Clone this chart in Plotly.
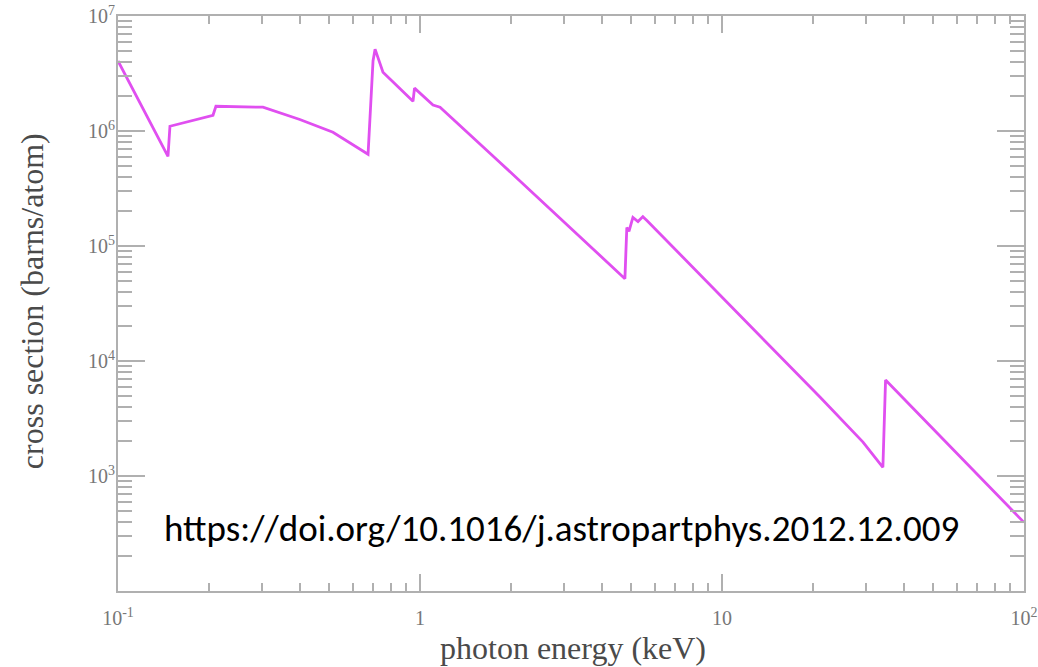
import plotly.graph_objects as go

# photon energy (keV) and cross section (barns/atom)
energy_kev = [0.100, 0.1464, 0.1486, 0.2063, 0.211, 0.302, 0.400, 0.515, 0.673,
              0.699, 0.710, 0.754, 0.948, 0.959, 1.104, 1.165, 1.84, 4.77,
              4.84, 4.92, 5.07, 5.27, 5.47, 5.65, 21.1, 29.3, 34.1, 34.8, 100.0]
cross_section = [4.06e6, 6.01e5, 1.10e6, 1.37e6, 1.64e6, 1.61e6, 1.26e6, 9.75e5, 6.27e5,
                 4.06e6, 5.15e6, 3.25e6, 1.81e6, 2.36e6, 1.68e6, 1.61e6, 5.33e5, 5.2e4,
                 1.45e5, 1.34e5, 1.77e5, 1.63e5, 1.80e5, 1.66e5, 4.86e3, 1.97e3, 1.19e3, 6.84e3, 395]

x_tick_vals = [0.1, 1, 10, 100]
x_tick_text = ["10<sup>-1</sup>", "1", "10", "10<sup>2</sup>"]
y_tick_vals = [1e2, 1e3, 1e4, 1e5, 1e6, 1e7]
y_tick_text = ["", "10<sup>3</sup>", "10<sup>4</sup>", "10<sup>5</sup>", "10<sup>6</sup>", "10<sup>7</sup>"]

x_minor = [k * 10.0 ** n for n in (-1, 0, 1) for k in range(2, 10)]
y_minor = [k * 10.0 ** n for n in (2, 3, 4, 5, 6) for k in range(2, 10)]

fig = go.Figure()
fig.add_trace(go.Scatter(x=energy_kev, y=cross_section, mode="lines",
                         line=dict(color="#e04ff0", width=2.8), showlegend=False))

axis_common = dict(showline=True, linecolor="#b0b0b0", linewidth=2, mirror="ticks",
                   ticks="inside", tickcolor="#b0b0b0", tickwidth=1.5,
                   showgrid=False, zeroline=False, automargin=False,
                   tickfont=dict(family="Liberation Serif", size=20, color="#777777"))

fig.update_xaxes(type="log", range=[-1, 2], tickmode="array", tickvals=x_tick_vals,
                 ticktext=x_tick_text, ticklen=17, ticklabelstandoff=8,
                 minor=dict(ticks="inside", ticklen=8, tickcolor="#b0b0b0", tickwidth=1.5,
                            tickmode="array", tickvals=x_minor, showgrid=False),
                 **axis_common)
fig.update_yaxes(type="log", range=[2, 7], tickmode="array", tickvals=y_tick_vals,
                 ticktext=y_tick_text, ticklen=27, ticklabelstandoff=-3,
                 minor=dict(ticks="inside", ticklen=14, tickcolor="#b0b0b0", tickwidth=1.5,
                            tickmode="array", tickvals=y_minor, showgrid=False),
                 **axis_common)

title_font = dict(family="Liberation Serif", size=32, color="#4a4a4a")
fig.add_annotation(text="photon energy (keV)", xref="paper", yref="paper",
                   x=0.5017, y=-0.099, xanchor="center", yanchor="middle",
                   showarrow=False, font=title_font)
fig.add_annotation(text="cross section (barns/atom)", xref="paper", yref="paper",
                   x=-0.095, y=0.504, xanchor="center", yanchor="middle", textangle=-90,
                   showarrow=False, font=title_font)
fig.add_annotation(text="https://doi.org/10.1016/j.astropartphys.2012.12.009",
                   xref="paper", yref="paper", x=0.489, y=0.108,
                   xanchor="center", yanchor="middle", showarrow=False,
                   font=dict(family="Carlito, Lato, sans-serif", size=37, color="#000000"))

fig.update_layout(width=1038, height=667, margin=dict(l=118, r=14, t=16, b=76, pad=0),
                  plot_bgcolor="white", paper_bgcolor="white")

fig.write_html("out.html")
